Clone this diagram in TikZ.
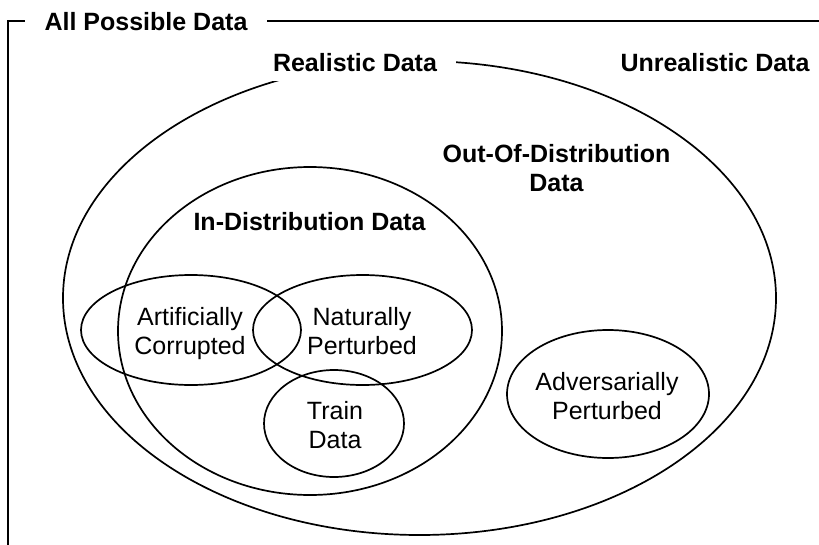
\documentclass[tikz,border=0pt]{standalone}
\usepackage{fontspec}
\setmainfont{Liberation Sans}
\newcommand{\ls}{\strut}
\begin{document}
\begin{tikzpicture}[x=1pt,y=-1pt,
  line/.style={draw=black,line width=1.7pt},
  lbl/.style={font=\fontsize{25}{29}\selectfont\bfseries,align=center,inner sep=0pt},
  txt/.style={font=\fontsize{25}{29}\selectfont,align=center,inner sep=0pt},
  gapbox/.style={fill=white,inner xsep=19pt,inner ysep=9pt}]
\useasboundingbox[fill=white] (0,0) rectangle (819,544);
% frame
\draw[line] (8,546) -- (8,21) -- (821,21);
\node[lbl,gapbox,inner xsep=20pt] (all) at (146,22) {All Possible Data};
% realistic
\draw[line] (419.5,298) ellipse [x radius=356.5, y radius=237];
\node[lbl,gapbox] (real) at (355,63) {Realistic Data};
\node[lbl] (unreal) at (715,63) {Unrealistic Data};
\node[lbl] (ood) at (556.5,171) {\ls Out-Of-Distribution\ls\\\ls Data\ls};
% in-distribution
\draw[line] (310,331) ellipse [x radius=192, y radius=164];
\node[lbl] (ind) at (309.5,222) {In-Distribution Data};
% inner ellipses
\draw[line] (191,330) ellipse [x radius=110, y radius=55];
\draw[line] (362.5,330) ellipse [x radius=109.5, y radius=55];
\draw[line] (334,423.5) ellipse [x radius=70, y radius=53.5];
\draw[line] (608,394) ellipse [x radius=101, y radius=64];
\node[txt] (art) at (190,334.5) {\ls Artificially\ls\\\ls Corrupted\ls};
\node[txt] (nat) at (362,334.5) {\ls Naturally\ls\\\ls Perturbed\ls};
\node[txt] (train) at (335,428.5) {\ls Train\ls\\\ls Data\ls};
\node[txt] (adv) at (607,399) {\ls Adversarially\ls\\\ls Perturbed\ls};
\end{tikzpicture}
\end{document}
